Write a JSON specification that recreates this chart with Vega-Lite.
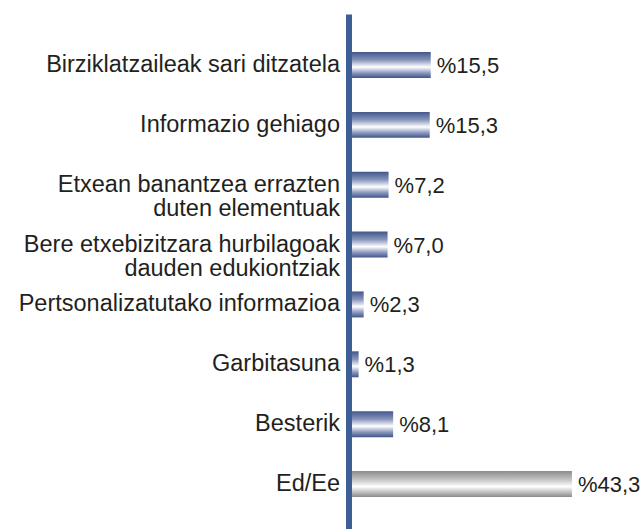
{
  "$schema": "https://vega.github.io/schema/vega-lite/v6.json",
  "width": 296,
  "height": 515,
  "autosize": {"type": "none"},
  "padding": {"left": 348.5, "top": 14, "right": 0, "bottom": 0},
  "background": "white",
  "config": {"view": {"stroke": null}, "font": "Liberation Sans"},
  "data": {
    "values": [
      {"cat": "Birziklatzaileak sari ditzatela", "v": 15.5, "lab": "%15,5", "g": 0},
      {"cat": "Informazio gehiago", "v": 15.3, "lab": "%15,3", "g": 0},
      {"cat": "Etxean banantzea errazten|duten elementuak", "v": 7.2, "lab": "%7,2", "g": 0},
      {"cat": "Bere etxebizitzara hurbilagoak|dauden edukiontziak", "v": 7.0, "lab": "%7,0", "g": 0},
      {"cat": "Pertsonalizatutako informazioa", "v": 2.3, "lab": "%2,3", "g": 0},
      {"cat": "Garbitasuna", "v": 1.3, "lab": "%1,3", "g": 0},
      {"cat": "Besterik", "v": 8.1, "lab": "%8,1", "g": 0},
      {"cat": "Ed/Ee", "v": 43.3, "lab": "%43,3", "g": 1}
    ]
  },
  "encoding": {
    "y": {
      "field": "cat",
      "type": "nominal",
      "sort": null,
      "scale": {"paddingInner": 0.566, "paddingOuter": 0.585, "align": 0.543},
      "axis": {
        "title": null,
        "ticks": false,
        "labelExpr": "split(datum.value, '|')",
        "labelFontSize": 23.5,
        "labelLineHeight": 24,
        "labelPadding": 9,
        "labelColor": "#231f20",
        "labelLimit": 400,
        "domainColor": "#3d5f96",
        "domainWidth": 6,
        "zindex": 1
      }
    },
    "x": {
      "field": "v",
      "type": "quantitative",
      "scale": {"domain": [-0.69, 57.58]},
      "axis": null
    }
  },
  "layer": [
    {
      "mark": {"type": "bar"},
      "encoding": {
        "fill": {
          "condition": {
            "test": "datum.g == 1",
            "value": {
              "gradient": "linear", "x1": 0, "y1": 0, "x2": 0, "y2": 1,
              "stops": [
                {"offset": 0, "color": "#8c8c8c"},
                {"offset": 0.3, "color": "#bdbdbd"},
                {"offset": 0.6, "color": "#ffffff"},
                {"offset": 0.8, "color": "#c4c4c4"},
                {"offset": 1, "color": "#8a8a8a"}
              ]
            }
          },
          "value": {
            "gradient": "linear", "x1": 0, "y1": 0, "x2": 0, "y2": 1,
            "stops": [
              {"offset": 0, "color": "#42578a"},
              {"offset": 0.3, "color": "#8593bb"},
              {"offset": 0.58, "color": "#ffffff"},
              {"offset": 0.8, "color": "#8d9ac0"},
              {"offset": 1, "color": "#3f5487"}
            ]
          }
        }
      }
    },
    {
      "mark": {"type": "text", "align": "left", "baseline": "middle", "dx": 6, "dy": 1, "fontSize": 22, "color": "#231f20"},
      "encoding": {"text": {"field": "lab"}}
    }
  ]
}
